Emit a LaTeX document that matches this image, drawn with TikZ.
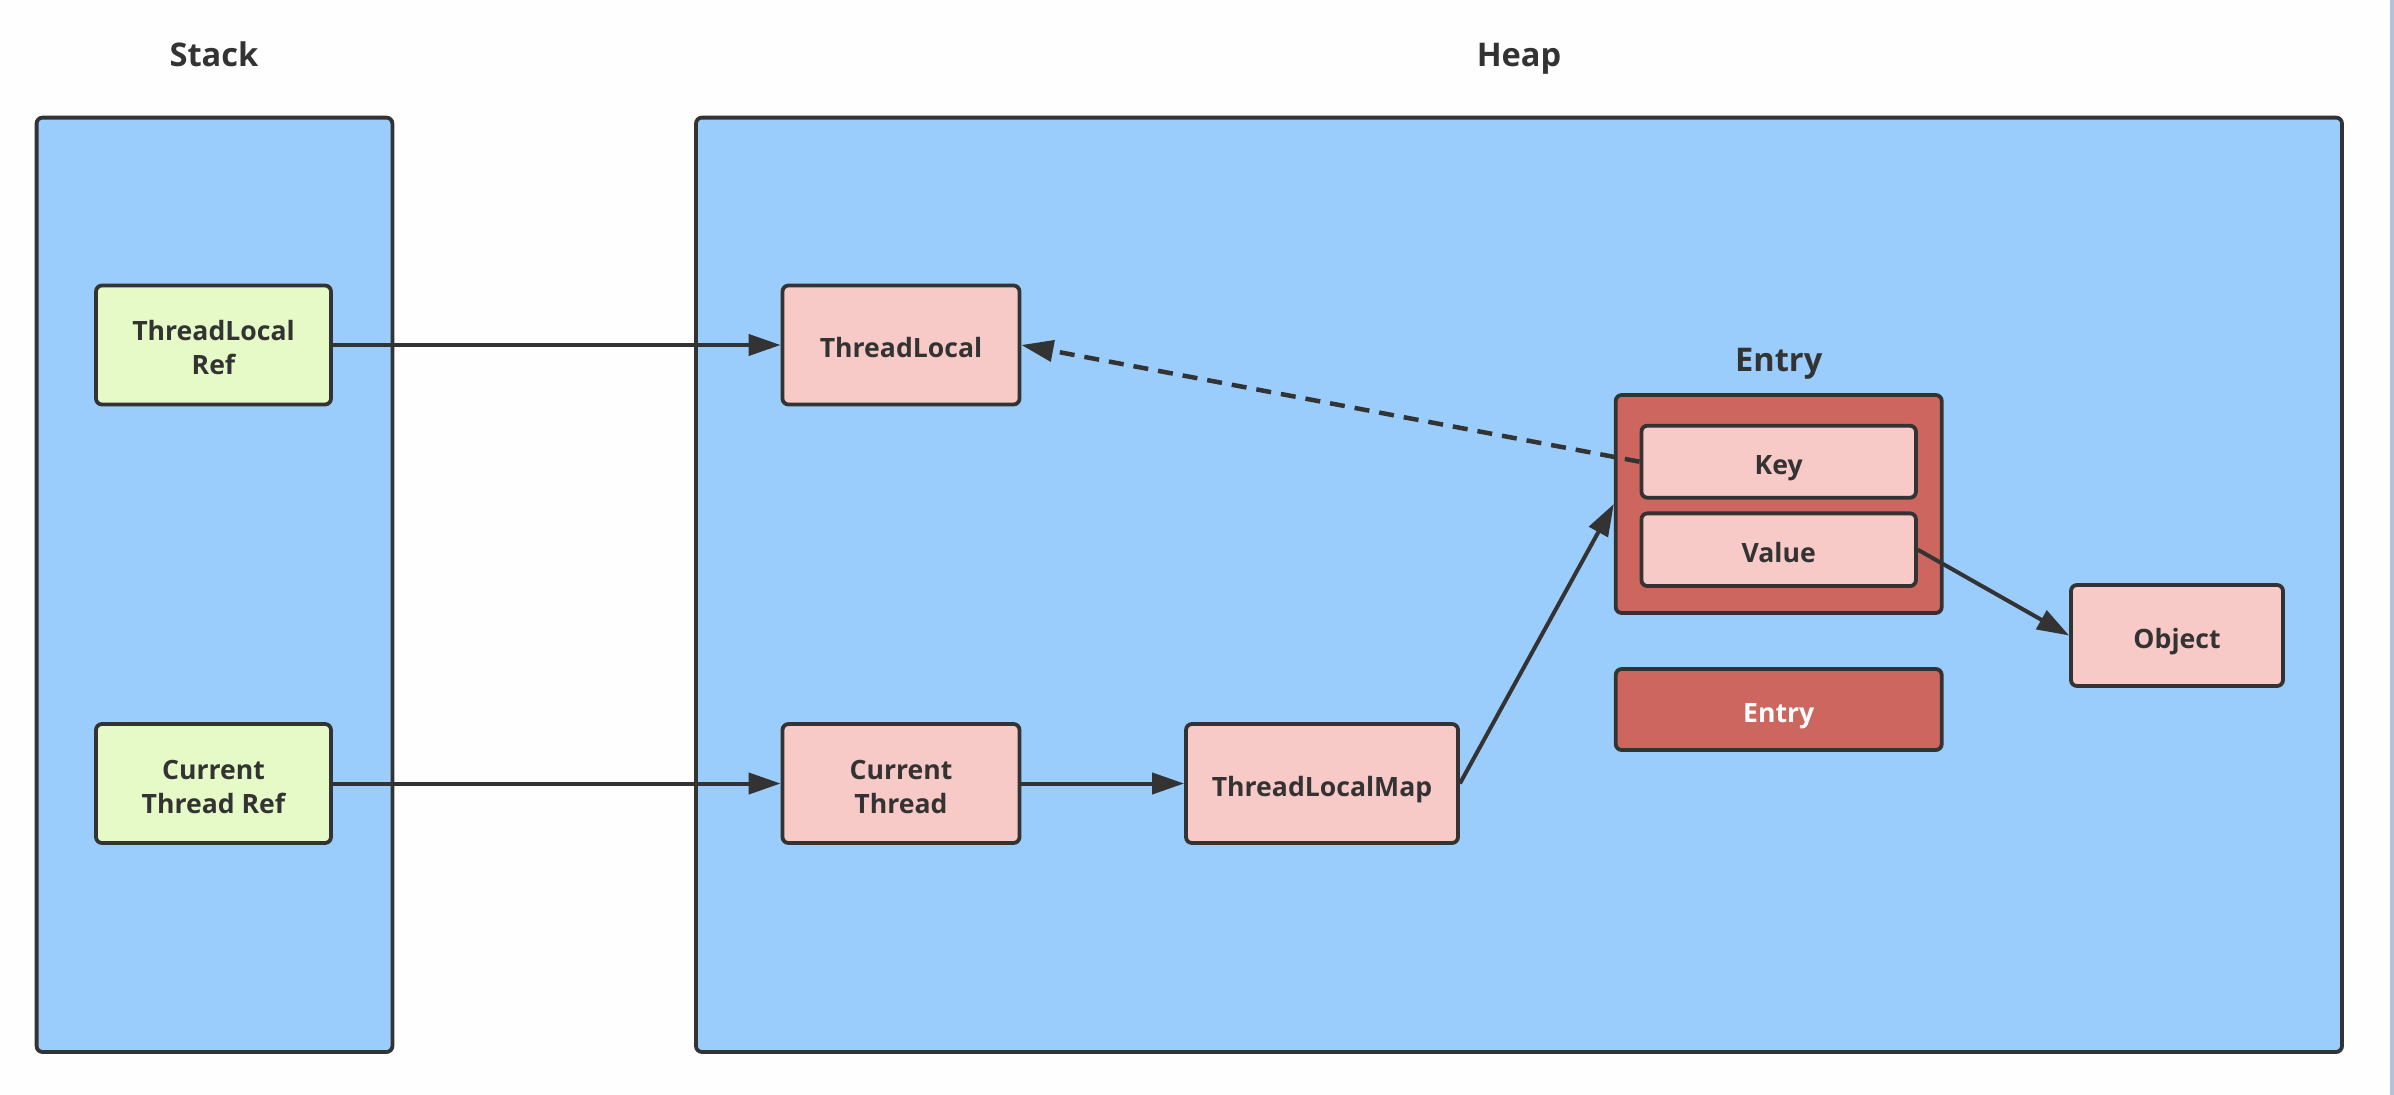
\documentclass[tikz,border=0pt]{standalone}
\usepackage{fontspec}
\setmainfont{Open Sans}
\usetikzlibrary{arrows.meta}
\definecolor{bluebg}{HTML}{9ACDFC}
\definecolor{greenbox}{HTML}{E6FAC8}
\definecolor{pinkbox}{HTML}{F7C9C7}
\definecolor{redbox}{HTML}{CD665F}
\definecolor{ink}{HTML}{333333}
\definecolor{strip}{HTML}{B4C3D9}
\definecolor{pagebg}{HTML}{FEFEFE}
\tikzset{
  base/.style={draw=ink, line width=3.8pt, rounded corners=6pt, inner sep=0pt, align=center,
    text=ink, font=\fontsize{26.6}{34}\selectfont\bfseries, text height=25pt, text depth=0pt},
  twoline/.style={text height=59pt, text depth=0pt},
  region/.style={base, fill=bluebg},
  greenn/.style={base, fill=greenbox, minimum width=235pt, minimum height=119pt},
  pinkn/.style={base, fill=pinkbox, minimum height=119pt},
  redn/.style={base, fill=redbox},
  title/.style={text=ink, font=\fontsize{32.6}{38}\selectfont\bfseries, inner sep=0pt,
    text height=23.3pt, text depth=0pt},
  arr/.style={draw=ink, line width=4pt, -{Triangle[length=32pt,width=21pt]}},
  dasharr/.style={arr, line width=4.5pt, dash pattern=on 15pt off 10pt}
}
\begin{document}
\begin{tikzpicture}[x=1pt,y=-1pt]
\useasboundingbox (0,0) rectangle (2394,1095);
\fill[pagebg] (0,0) rectangle (2394,1095);
\fill[strip] (2390,0) rectangle (2394,1095);

% regions
\node[region, minimum width=355.8pt, minimum height=934.4pt] (stack) at (214.5,584.8) {};
\node[region, minimum width=1646pt, minimum height=934.4pt] (heap) at (1519,584.8) {};
\node[title] (stacklbl) at (214,55) {Stack};
\node[title] (heaplbl) at (1519,55) {Heap};

% stack items
\node[greenn, twoline] (tlref) at (213.5,345) {ThreadLocal\\Ref};
\node[greenn, twoline] (ctref) at (213.5,783.5) {Current\\Thread Ref};

% heap items
\node[pinkn, minimum width=237pt] (tl) at (901,345) {ThreadLocal};
\node[pinkn, twoline, minimum width=237pt] (ct) at (901,783.5) {Current\\Thread};
\node[pinkn, minimum width=272pt] (tlm) at (1322,783.5) {ThreadLocalMap};

\node[title] (entrylbl) at (1778.7,360) {Entry};
\node[redn, minimum width=326pt, minimum height=218pt] (entry) at (1778.7,504) {};
\node[base, fill=pinkbox, minimum width=274.5pt, minimum height=72pt] (key) at (1778.7,461.7) {Key};
\node[base, fill=pinkbox, minimum width=274.5pt, minimum height=72.7pt] (value) at (1778.7,549.7) {Value};
\node[base, fill=pinkbox, minimum width=212pt, minimum height=101pt] (object) at (2177,635.5) {Object};
\node[redn, minimum width=326pt, minimum height=81pt, text=white] (entry2) at (1778.7,709.5) {Entry};

% connectors
\draw[arr] (tlref.east) -- (tl.west);
\draw[arr] (ctref.east) -- (ct.west);
\draw[arr] (ct.east) -- (tlm.west);
\draw[arr] (tlm.east) -- (entry.west);
\draw[dasharr] (key.west) -- (tl.east);
\draw[arr] (value.east) -- (object.west);
\end{tikzpicture}
\end{document}
